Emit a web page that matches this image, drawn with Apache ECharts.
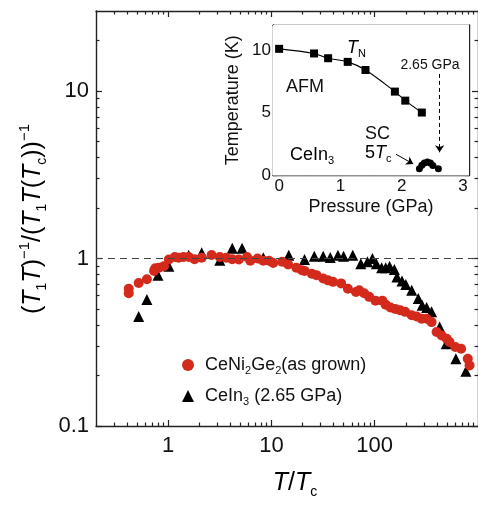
<!DOCTYPE html>
<html>
<head>
<meta charset="utf-8">
<script src="https://cdn.jsdelivr.net/npm/echarts@6/dist/echarts.min.js"></script>
<style>
  html, body { margin: 0; padding: 0; background: #fff; }
  #chart { width: 478px; height: 505px; }
</style>
</head>
<body>
<div id="chart"></div>
<script>
// main panel: CeNi2Ge2 (as grown), T/Tc vs normalised 1/T1T
const niT = [0.415, 0.415, 0.518, 0.622, 0.73, 0.75, 0.815, 0.91, 1.015, 1.16, 1.26, 1.41, 1.58, 1.8, 2.11,
  2.63, 3.16, 3.65, 4.17, 4.83, 5.8, 6.24, 7.33, 8.34, 9.47, 10.4, 12.7, 14.5, 17.4, 19.7, 20.9, 24.6, 27.3,
  31.7, 35.3, 39.4, 47.3, 55, 65.8, 70.8, 79, 88.4, 101.8, 118.5, 127.6, 142, 158, 177, 197, 228, 255, 285,
  318, 355, 397, 445, 498, 530, 603, 686, 796, 828];
const niR = [0.66, 0.62, 0.714, 0.752, 0.843, 0.875, 0.88, 0.90, 0.986, 1.02, 1.01, 1.02, 1.02, 0.99, 1.01,
  1.05, 1.02, 1.01, 0.99, 0.986, 1.02, 0.97, 1.0, 0.97, 0.97, 0.94, 0.955, 0.92, 0.88, 0.85, 0.843, 0.81, 0.795,
  0.76, 0.74, 0.725, 0.71, 0.66, 0.63, 0.645, 0.62, 0.59, 0.56, 0.56, 0.53, 0.51, 0.50, 0.49, 0.48, 0.458, 0.45, 0.437,
  0.437, 0.417, 0.364, 0.347, 0.332, 0.317, 0.296, 0.289, 0.252, 0.23];

// CeIn3 at 2.65 GPa
const inT = [0.518, 0.622, 0.797, 1.015, 1.58, 2.11, 3.16, 4.17, 5.19, 8.34, 14.7, 20.9, 26.0, 31.7, 37.1, 44,
  49.9, 61.3, 73.3, 85, 95, 103.8, 116.6, 127.6, 139.3, 155, 164, 183.6, 200, 228, 264, 288, 318, 355, 425,
  493, 611, 763];
const inR = [0.45, 0.568, 0.794, 0.90, 1.046, 1.08, 0.977, 1.15, 1.15, 1.01, 1.047, 0.986, 1.03, 1.03, 1.014, 1.047,
  1.03, 1.047, 0.93, 0.955, 1.0, 0.93, 0.88, 0.88, 0.90, 0.86, 0.776, 0.734, 0.70, 0.646, 0.576, 0.526, 0.509, 0.48, 0.39,
  0.31, 0.252, 0.212];

// inset: CeIn3 phase diagram
const pTN = [0, 0.57, 0.80, 1.12, 1.41, 1.89, 2.06, 2.33];
const tTN = [10.1, 9.73, 9.35, 9.06, 8.41, 6.69, 5.97, 5.02];
const pSC = [2.29, 2.33, 2.37, 2.42, 2.47, 2.51, 2.60];
const tSC = [0.54, 0.81, 0.99, 1.07, 0.99, 0.80, 0.54];

// ticks
const xMajor = [1, 10, 100];
const xMinor = [0.3, 0.4, 0.5, 0.6, 0.7, 0.8, 0.9, 2, 3, 4, 5, 6, 7, 8, 9,
  20, 30, 40, 50, 60, 70, 80, 90, 200, 300, 400, 500, 600, 700, 800, 900];
const yMajor = [0.1, 1, 10];
const yMinor = [0.2, 0.3, 0.4, 0.5, 0.6, 0.7, 0.8, 0.9, 2, 3, 4, 5, 6, 7, 8, 9, 20];
const pTicks = [0, 0.5, 1, 1.5, 2, 2.5, 3];
const pLabels = [0, 1, 2, 3];
const tTicks = [0, 2.5, 5, 7.5, 10];
const tLabels = [0, 5, 10];

const FONT = "'Liberation Sans', Arial, sans-serif";
const INK = '#222';
const RED = '#d42a1c';

const zip = (a, b) => a.map((v, i) => [v, b[i]]);

// one edge of a frame; ticks point inward
function edge(type, grid, pos, range, ticks, len, labels, labelSize, margin) {
  return {
    type: type, gridIndex: grid, position: pos, min: range[0], max: range[1],
    axisLine: { show: true, onZero: false, lineStyle: { color: INK, width: 1.4 } },
    axisTick: { show: true, inside: true, length: len, customValues: ticks, lineStyle: { color: INK, width: 1.2 } },
    axisLabel: labels
      ? { show: true, customValues: labels, fontSize: labelSize, color: '#111', fontFamily: FONT, margin: margin, formatter: v => String(v) }
      : { show: false },
    splitLine: { show: false }
  };
}
function ticksOnly(type, grid, pos, range, ticks, len) {
  const a = edge(type, grid, pos, range, ticks, len, null);
  a.axisLine = { show: false, onZero: false };
  return a;
}

const XR = [0.2, 1000], YR = [0.1, 30], PR = [-0.1, 3.1], TR = [0, 12];

const xAxis = [
  edge('log', 0, 'bottom', XR, xMajor, 6, xMajor, 22, 9),
  ticksOnly('log', 0, 'bottom', XR, xMinor, 3.5),
  edge('log', 0, 'top', XR, xMajor, 6, null),
  ticksOnly('log', 0, 'top', XR, xMinor, 3.5),
  edge('value', 1, 'bottom', PR, pTicks, 4, pLabels, 17, 2),
  edge('value', 1, 'top', PR, pTicks, 4, null)
];
const yAxis = [
  edge('log', 0, 'left', YR, yMajor, 6, yMajor, 22, 7),
  ticksOnly('log', 0, 'left', YR, yMinor, 3.5),
  edge('log', 0, 'right', YR, yMajor, 6, null),
  ticksOnly('log', 0, 'right', YR, yMinor, 3.5),
  edge('value', 1, 'left', TR, tTicks, 4, tLabels, 17, 2),
  edge('value', 1, 'right', TR, tTicks, 4, null)
];
Object.assign(xAxis[4], {
  name: 'Pressure (GPa)', nameLocation: 'middle', nameGap: 23,
  nameTextStyle: { fontSize: 18, color: '#111', fontFamily: FONT }
});
Object.assign(yAxis[4], {
  name: 'Temperature (K)', nameLocation: 'middle', nameGap: 31,
  nameTextStyle: { fontSize: 18, color: '#111', fontFamily: FONT }
});

const base = { fontFamily: FONT, color: '#111' };
const richMain = {
  p: Object.assign({ fontSize: 25, lineHeight: 32 }, base),
  i: Object.assign({ fontSize: 25, lineHeight: 32, fontStyle: 'italic' }, base),
  s: Object.assign({ fontSize: 14, lineHeight: 14, verticalAlign: 'bottom' }, base),
  u: Object.assign({ fontSize: 15, lineHeight: 15, verticalAlign: 'top' }, base)
};
const richSmall = {
  t: Object.assign({ fontSize: 18, lineHeight: 22 }, base),
  i: Object.assign({ fontSize: 18, lineHeight: 22, fontStyle: 'italic' }, base),
  s: Object.assign({ fontSize: 11, lineHeight: 10, verticalAlign: 'bottom' }, base)
};

const chart = echarts.init(document.getElementById('chart'), null, { renderer: 'canvas' });
chart.setOption({
  animation: false,
  backgroundColor: '#fff',
  grid: [
    { left: 96, top: 11, width: 388, height: 415 },
    { left: 273, top: 25, width: 196, height: 150.5, show: true, backgroundColor: '#fff', borderWidth: 0, z: 5 }
  ],
  xAxis: xAxis,
  yAxis: yAxis,
  legend: {
    orient: 'vertical', left: 177, top: 351, itemGap: 11,
    itemWidth: 12, itemHeight: 12,
    data: [
      { name: 'ni', icon: 'circle', itemStyle: { color: RED, opacity: 1 } },
      { name: 'in', icon: 'triangle', itemStyle: { color: '#000', opacity: 1 } }
    ],
    formatter: n => n === 'ni'
      ? '{t|CeNi}{s|2}{t|Ge}{s|2}{t|(as grown)}'
      : '{t|CeIn}{s|3}{t| (2.65 GPa)}',
    textStyle: { padding: [0, 0, 0, 6], rich: richSmall }
  },
  series: [
    {
      name: 'in', type: 'scatter', xAxisIndex: 0, yAxisIndex: 0,
      symbol: 'triangle', symbolSize: 11, itemStyle: { color: '#000', opacity: 1 },
      data: zip(inT, inR),
      markLine: {
        silent: true, symbol: 'none', label: { show: false },
        lineStyle: { color: '#444', type: [7, 5], width: 1.2 },
        data: [{ yAxis: 1 }]
      }
    },
    {
      name: 'ni', type: 'scatter', xAxisIndex: 0, yAxisIndex: 0,
      symbol: 'circle', symbolSize: 10, itemStyle: { color: RED, opacity: 1 },
      data: zip(niT, niR)
    },
    {
      type: 'line', xAxisIndex: 4, yAxisIndex: 4, z: 6,
      smooth: 0.35, symbol: 'rect', symbolSize: 8,
      lineStyle: { color: '#000', width: 1.1 }, itemStyle: { color: '#000', opacity: 1 },
      data: zip(pTN, tTN)
    },
    {
      type: 'scatter', xAxisIndex: 4, yAxisIndex: 4, z: 6,
      symbol: 'circle', symbolSize: 7, itemStyle: { color: '#000', opacity: 1 },
      data: zip(pSC, tSC),
      markLine: {
        silent: true, label: { show: false }, symbolSize: 7,
        data: [
          [{ coord: [1.91, 1.69], symbol: 'none', lineStyle: { type: 'solid' } }, { coord: [2.19, 0.92], symbol: 'arrow' }],
          [{ coord: [2.62, 8.1], symbol: 'none', lineStyle: { type: [4, 3] } }, { coord: [2.62, 1.85], symbol: 'arrow' }]
        ],
        lineStyle: { color: '#000', width: 1 }
      }
    }
  ],
  graphic: [
    {
      type: 'text', x: 33, y: 219, rotation: Math.PI / 2, z: 10,
      style: {
        text: '{p|(}{i|T}{s|1}{i|T}{p|)}{u|−1}{p|/(}{i|T}{s|1}{i|T}{p|(}{i|T}{s|c}{p|))}{u|−1}',
        align: 'center', verticalAlign: 'middle', rich: richMain
      }
    },
    {
      type: 'text', x: 295, y: 483, z: 10,
      style: { text: '{i|T}{p|/}{i|T}{s|c}', align: 'center', verticalAlign: 'middle', rich: richMain }
    },
    { type: 'text', x: 347, y: 48, z: 10, style: { text: '{i|T}{s|N}', align: 'left', verticalAlign: 'middle', rich: richSmall } },
    { type: 'text', x: 286, y: 87, z: 10, style: { text: 'AFM', font: '18px ' + FONT, fill: '#111', align: 'left', verticalAlign: 'middle' } },
    { type: 'text', x: 290, y: 155, z: 10, style: { text: '{t|CeIn}{s|3}', align: 'left', verticalAlign: 'middle', rich: richSmall } },
    { type: 'text', x: 365, y: 134, z: 10, style: { text: 'SC', font: '18px ' + FONT, fill: '#111', align: 'left', verticalAlign: 'middle' } },
    { type: 'text', x: 365, y: 153, z: 10, style: { text: '{t|5}{i|T}{s|c}', align: 'left', verticalAlign: 'middle', rich: richSmall } },
    { type: 'text', x: 430, y: 65, z: 10, style: { text: '2.65 GPa', font: '14px ' + FONT, fill: '#111', align: 'center', verticalAlign: 'middle' } }
  ]
});
</script>
</body>
</html>
